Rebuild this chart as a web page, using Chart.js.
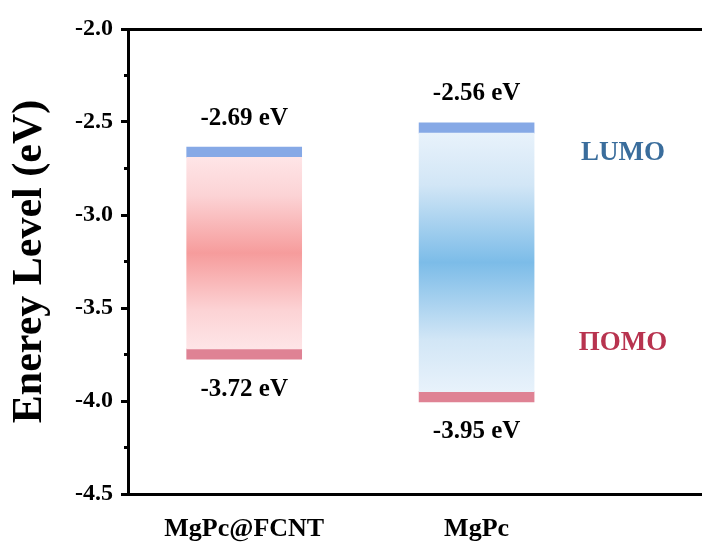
<!DOCTYPE html>
<html>
<head>
<meta charset="utf-8">
<script src="https://cdn.jsdelivr.net/npm/chart.js@4.4.1/dist/chart.umd.min.js"></script>
<style>
  html, body { margin: 0; padding: 0; background: #fff; }
  #wrap { width: 702px; height: 547px; }
</style>
</head>
<body>
<div id="wrap"><canvas id="myChart"></canvas></div>
<script>
// data
const samples = ["MgPc@FCNT", "MgPc"];
const lumo = [-2.69, -2.56];
const homo = [-3.72, -3.95];
const yTicks = [-4.5, -4.0, -3.5, -3.0, -2.5, -2.0];
const yMinor = [-4.25, -3.75, -3.25, -2.75, -2.25];
const levelNames = ["LUMO", "ПОМО"];

// styles
const lineW = 0.055;   // thickness of level lines, in eV
const serif = "Liberation Serif";
const boxColors = [
  ["#fee5e7", "#fcd3d5", "#f69c9c"],
  ["#e8f2fb", "#d2e6f6", "#7cbce8"]
];
const levelColors = ["#3a6d9c", "#b8334f"];

function boxFill(c) {
  const chart = c.chart;
  if (!chart.chartArea || !c.raw) return "#f8c0c0";
  const y = chart.scales.y;
  const top = y.getPixelForValue(c.raw.y[1]);
  const bot = y.getPixelForValue(c.raw.y[0]);
  const g = chart.ctx.createLinearGradient(0, top, 0, bot);
  const col = boxColors[c.dataIndex];
  g.addColorStop(0, col[0]);
  g.addColorStop(0.2, col[1]);
  g.addColorStop(0.5, col[2]);
  g.addColorStop(0.8, col[1]);
  g.addColorStop(1, col[0]);
  return g;
}

const minorTicks = {
  id: "minorTicks",
  afterDraw(chart) {
    const { ctx, scales: { y } } = chart;
    ctx.save();
    ctx.strokeStyle = "#000";
    ctx.lineWidth = 3;
    yMinor.forEach(v => {
      const py = y.getPixelForValue(v);
      ctx.beginPath();
      ctx.moveTo(y.right - 4, py);
      ctx.lineTo(y.right, py);
      ctx.stroke();
    });
    ctx.restore();
  }
};

const levelLabels = {
  id: "levelLabels",
  afterDatasetsDraw(chart) {
    const { ctx, scales: { x, y } } = chart;
    ctx.save();
    ctx.textAlign = "center";
    ctx.textBaseline = "middle";
    ctx.fillStyle = "#000";
    ctx.font = "bold 25px '" + serif + "'";
    samples.forEach((s, i) => {
      const cx = x.getPixelForValue(i + 1);
      ctx.fillText(lumo[i].toFixed(2) + " eV", cx, y.getPixelForValue(lumo[i] + lineW) - 29);
      ctx.fillText(homo[i].toFixed(2) + " eV", cx, y.getPixelForValue(homo[i] - lineW) + 30);
    });
    ctx.font = "bold 27px '" + serif + "'";
    ctx.fillStyle = levelColors[0];
    ctx.fillText(levelNames[0], x.getPixelForValue(2.63), y.getPixelForValue(-2.668));
    ctx.fillStyle = levelColors[1];
    ctx.fillText(levelNames[1], x.getPixelForValue(2.63), y.getPixelForValue(-3.686));
    ctx.restore();
  }
};

const ctx = document.getElementById("myChart");
new Chart(ctx, {
  type: "bar",
  data: {
    datasets: [
      {
        data: samples.map((s, i) => ({ x: i + 1, y: [homo[i], lumo[i]] })),
        backgroundColor: boxFill
      },
      {
        data: samples.map((s, i) => ({ x: i + 1, y: [lumo[i], lumo[i] + lineW] })),
        backgroundColor: "#86a9e6"
      },
      {
        data: samples.map((s, i) => ({ x: i + 1, y: [homo[i] - lineW, homo[i]] })),
        backgroundColor: "#df8294"
      }
    ]
  },
  options: {
    responsive: true,
    maintainAspectRatio: false,
    animation: false,
    layout: { padding: 0 },
    datasets: { bar: { grouped: false, barThickness: 115, borderWidth: 0 } },
    plugins: { legend: { display: false }, tooltip: { enabled: false } },
    scales: {
      x: {
        type: "linear",
        offset: false,
        min: 0.5,
        max: 2.97,
        grid: { display: false, drawTicks: false, offset: false },
        border: { color: "#000", width: 3 },
        afterBuildTicks: s => { s.ticks = samples.map((n, i) => ({ value: i + 1 })); },
        ticks: {
          callback: v => samples[v - 1] || "",
          font: { family: serif, weight: "bold", size: 26 },
          color: "#000",
          padding: 20,
          maxRotation: 0,
          autoSkip: false
        },
        afterFit: s => { s.height = 53; }
      },
      x2: {
        type: "linear",
        position: "top",
        offset: false,
        min: 0.5,
        max: 2.97,
        grid: { display: false, drawTicks: false },
        ticks: { display: false },
        border: { color: "#000", width: 3 },
        afterFit: s => { s.height = 29; }
      },
      y: {
        min: -4.5,
        max: -2.0,
        afterBuildTicks: s => { s.ticks = yTicks.map(v => ({ value: v })); },
        ticks: {
          callback: v => v.toFixed(1),
          font: { family: serif, weight: "bold", size: 24 },
          color: "#000",
          padding: 8
        },
        grid: { display: true, drawOnChartArea: false, tickLength: 7, tickWidth: 3, tickColor: "#000" },
        border: { color: "#000", width: 3 },
        title: {
          display: true,
          text: "Enerey Level (eV)",
          font: { family: serif, weight: "bold", size: 42 },
          color: "#000",
          padding: { top: 5, bottom: 0 }
        },
        afterFit: s => { s.width = 128; }
      }
    }
  },
  plugins: [minorTicks, levelLabels]
});
</script>
</body>
</html>
